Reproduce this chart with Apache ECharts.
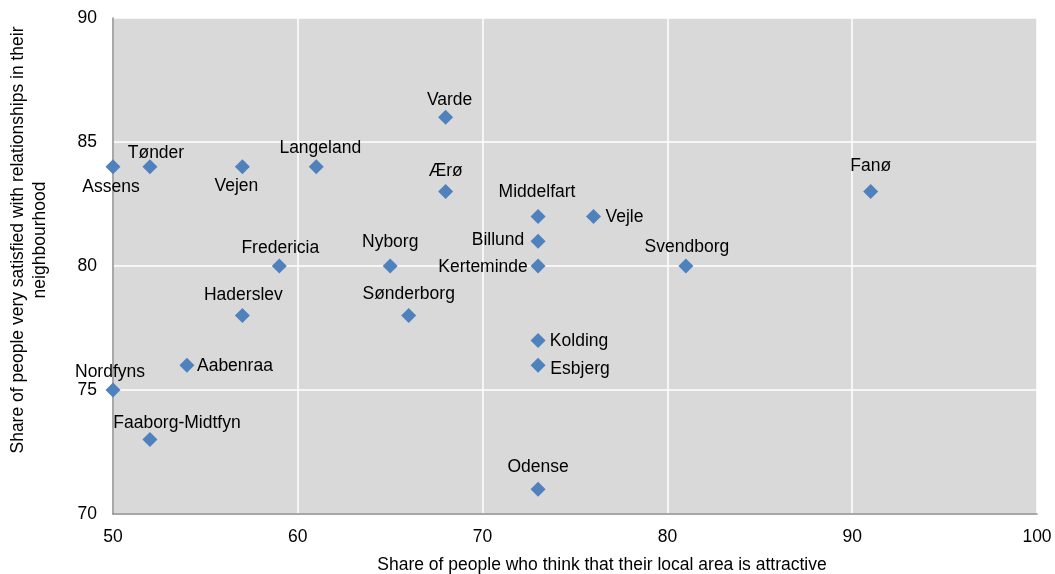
<!DOCTYPE html>
<html>
<head>
<meta charset="utf-8">
<script src="https://cdn.jsdelivr.net/npm/echarts@6/dist/echarts.min.js"></script>
<style>
  html, body { margin: 0; padding: 0; background: #fff; }
  #chart { width: 1055px; height: 574px; }
</style>
</head>
<body>
<div id="chart"></div>
<script>
// Danish municipalities: attractiveness of local area vs. satisfaction with neighbourhood relationships
const municipalities = ['Assens', 'Tønder', 'Vejen', 'Langeland', 'Varde', 'Ærø', 'Middelfart', 'Vejle',
  'Billund', 'Kerteminde', 'Svendborg', 'Nyborg', 'Fredericia', 'Fanø', 'Haderslev', 'Sønderborg',
  'Kolding', 'Esbjerg', 'Aabenraa', 'Nordfyns', 'Faaborg-Midtfyn', 'Odense'];
const attractiveShare = [50, 52, 57, 61, 68, 68, 73, 76, 73, 73, 81, 65, 59, 91, 57, 66, 73, 73, 54, 50, 52, 73];
const satisfiedShare = [84, 84, 84, 84, 86, 83, 82, 82, 81, 80, 80, 80, 80, 83, 78, 78, 77, 76, 76, 75, 73, 71];

const xTicks = { min: 50, max: 100, interval: 10 };
const yTicks = { min: 70, max: 90, interval: 5 };

// Where each point's name sits relative to its marker (dx, dy in pixels)
const labelOffsets = {
  'Assens': [-2, 20], 'Tønder': [6, -14], 'Vejen': [-6, 19], 'Langeland': [4, -19],
  'Varde': [4, -17], 'Ærø': [0, -20], 'Middelfart': [-1, -24], 'Vejle': [31, 1],
  'Billund': [-40, -1], 'Kerteminde': [-55, 1], 'Svendborg': [1, -19], 'Nyborg': [0, -24],
  'Fredericia': [1, -18], 'Fanø': [0, -25], 'Haderslev': [1, -20], 'Sønderborg': [0, -21],
  'Kolding': [41, 1], 'Esbjerg': [42, 4], 'Aabenraa': [48, 1], 'Nordfyns': [-3, -18],
  'Faaborg-Midtfyn': [27, -16], 'Odense': [0, -22]
};

const FONT = 'Liberation Sans, Arial, sans-serif';
const FS = 17.5;

const points = municipalities.map((name, i) => ({
  name: name,
  value: [attractiveShare[i], satisfiedShare[i]],
  label: { offset: labelOffsets[name] || [0, -20] }
}));

const chart = echarts.init(document.getElementById('chart'), null, { renderer: 'canvas' });
chart.setOption({
  animation: false,
  backgroundColor: '#ffffff',
  grid: {
    left: 113, right: 18, top: 18, bottom: 60,
    containLabel: false, outerBoundsMode: 'none',
    show: true, backgroundColor: '#d9d9d9', borderWidth: 0
  },
  xAxis: {
    type: 'value',
    min: xTicks.min, max: xTicks.max, interval: xTicks.interval,
    name: 'Share of people who think that their local area is attractive',
    nameLocation: 'middle',
    nameGap: 42,
    nameTextStyle: { fontFamily: FONT, fontSize: FS, color: '#000', padding: [0, 0, 0, 54] },
    axisLine: { show: true, lineStyle: { color: '#8c8c8c', width: 1.5 } },
    axisTick: { show: false },
    axisLabel: { fontFamily: FONT, fontSize: FS, color: '#000', margin: 14 },
    splitLine: { show: true, lineStyle: { color: '#ffffff', width: 1.5 } }
  },
  yAxis: {
    type: 'value',
    min: yTicks.min, max: yTicks.max, interval: yTicks.interval,
    name: 'Share of people very satisfied with relationships in their\nneighbourhood',
    nameLocation: 'middle',
    nameGap: 62,
    nameTextStyle: { fontFamily: FONT, fontSize: FS, color: '#000', lineHeight: 22, padding: [0, 0, 0, 52] },
    axisLine: { show: true, lineStyle: { color: '#8c8c8c', width: 1.5 } },
    axisTick: { show: false },
    axisLabel: { fontFamily: FONT, fontSize: FS, color: '#000', margin: 16 },
    splitLine: { show: true, lineStyle: { color: '#ffffff', width: 1.5 } }
  },
  series: [{
    type: 'scatter',
    clip: false,
    symbol: 'diamond',
    symbolSize: [15, 15],
    itemStyle: { color: '#4f81bd', opacity: 1 },
    label: {
      show: true,
      position: 'inside',
      formatter: '{b}',
      fontFamily: FONT,
      fontSize: FS,
      color: '#000',
      opacity: 1
    },
    data: points
  }]
});
</script>
</body>
</html>
